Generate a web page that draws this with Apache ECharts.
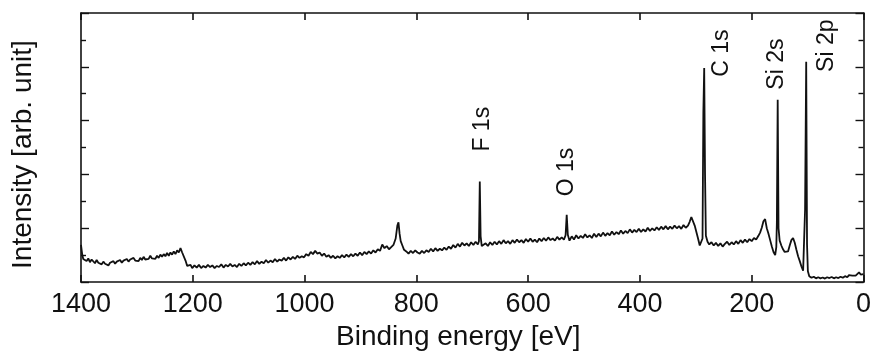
<!DOCTYPE html>
<html>
<head>
<meta charset="utf-8">
<script src="https://cdn.jsdelivr.net/npm/echarts@6/dist/echarts.min.js"></script>
<style>
  html, body { margin: 0; padding: 0; background: #fff; }
  #main { width: 874px; height: 356px; }
</style>
</head>
<body>
<div id="main"></div>
<script>
// XPS survey spectrum, [binding energy eV, intensity arb.]
const spectrum = [
  [1400, 1.38], [1398, 1.05], [1396, 0.86], [1393, 0.92], [1390, 0.78], [1387, 0.88], [1384, 0.74],
  [1381, 0.84], [1378, 0.8], [1375, 0.7], [1372, 0.82], [1369, 0.72], [1366, 0.78], [1363, 0.66],
  [1360, 0.76], [1357, 0.68], [1354, 0.74], [1351, 0.62], [1348, 0.72], [1345, 0.66], [1342, 0.78],
  [1339, 0.68], [1336, 0.76], [1333, 0.7], [1330, 0.82], [1327, 0.72], [1324, 0.8], [1321, 0.74],
  [1318, 0.86], [1315, 0.76], [1312, 0.84], [1309, 0.78], [1306, 0.9], [1303, 0.8], [1300, 0.86],
  [1297, 0.78], [1294, 0.9], [1291, 0.82], [1288, 0.94], [1285, 0.84], [1282, 0.9], [1279, 0.86],
  [1276, 0.98], [1273, 0.88], [1270, 0.94], [1267, 0.86], [1264, 0.98], [1261, 0.9], [1258, 1.02],
  [1255, 0.94], [1252, 1.04], [1249, 0.96], [1246, 1.08], [1243, 0.98], [1240, 1.1], [1237, 1.02],
  [1234, 1.14], [1231, 1.04], [1228, 1.18], [1225, 1.1], [1222, 1.26], [1219, 1.1], [1216, 1.14],
  [1213, 0.8], [1210, 0.6], [1207, 0.54], [1204, 0.64], [1201, 0.52],
  [1197, 0.62], [1193, 0.54], [1189, 0.64], [1185, 0.52], [1181, 0.6], [1177, 0.54], [1173, 0.64],
  [1169, 0.56], [1165, 0.62], [1161, 0.52], [1157, 0.6], [1153, 0.56], [1149, 0.66], [1145, 0.54],
  [1141, 0.64], [1137, 0.58], [1133, 0.68], [1129, 0.58], [1125, 0.64], [1121, 0.56], [1117, 0.68],
  [1113, 0.6], [1109, 0.7], [1105, 0.62], [1101, 0.72], [1097, 0.64], [1093, 0.74], [1089, 0.66],
  [1085, 0.78], [1081, 0.68], [1077, 0.76], [1073, 0.7], [1069, 0.82], [1065, 0.72], [1061, 0.8],
  [1057, 0.74], [1053, 0.86], [1049, 0.76], [1045, 0.84], [1041, 0.8], [1037, 0.9], [1033, 0.8],
  [1029, 0.92], [1025, 0.84], [1021, 0.94], [1017, 0.86], [1013, 0.98], [1009, 0.9], [1005, 0.96],
  [1001, 0.92],
  [997, 1.04], [993, 0.98], [989, 1.12], [985, 1.04], [981, 1.16], [977, 1.06], [973, 1.1],
  [969, 0.98], [965, 1.06], [961, 0.94], [957, 1.0], [953, 0.9], [949, 0.98], [945, 0.88],
  [941, 0.96], [937, 0.9], [933, 1.0], [929, 0.92], [925, 1.02], [921, 0.94], [917, 1.04],
  [913, 0.96], [909, 1.06], [905, 0.98], [901, 1.1], [897, 1.0], [893, 1.12], [889, 1.04],
  [885, 1.14], [881, 1.06], [877, 1.18], [873, 1.1], [869, 1.22], [865, 1.16], [861, 1.4],
  [857, 1.26], [853, 1.34], [849, 1.22], [845, 1.3], [841, 1.38], [837, 1.62], [834, 2.1],
  [832, 2.22], [830, 1.8], [828, 1.52], [825, 1.36], [822, 1.2], [818, 1.14], [814, 1.06],
  [810, 1.16], [806, 1.08], [802, 1.18], [798, 1.1], [794, 1.06], [790, 1.16], [786, 1.08],
  [782, 1.18], [778, 1.12], [774, 1.24], [770, 1.14], [766, 1.26], [762, 1.16], [758, 1.24],
  [754, 1.18], [750, 1.28], [746, 1.2], [742, 1.32], [738, 1.24], [734, 1.38], [730, 1.28],
  [726, 1.42], [722, 1.32], [718, 1.46], [714, 1.36], [710, 1.44], [706, 1.34], [702, 1.48],
  [698, 1.38], [694, 1.5], [690, 1.4], [688, 1.52], [686.5, 3.74], [685, 1.7], [683, 1.34],
  [680, 1.28], [676, 1.44], [672, 1.34], [668, 1.48], [664, 1.38], [660, 1.5], [656, 1.4],
  [652, 1.52], [648, 1.42], [644, 1.56], [640, 1.44], [636, 1.52], [632, 1.42], [628, 1.56],
  [624, 1.46], [620, 1.58], [616, 1.48], [612, 1.56], [608, 1.46], [604, 1.6], [600, 1.5],
  [596, 1.62], [592, 1.5], [588, 1.58], [584, 1.48], [580, 1.62], [576, 1.52], [572, 1.64],
  [568, 1.54], [564, 1.66], [560, 1.56], [556, 1.62], [552, 1.54], [548, 1.68], [544, 1.58],
  [540, 1.66], [536, 1.58], [533, 1.74], [531, 2.5], [529, 1.76], [526, 1.54], [522, 1.7],
  [518, 1.58], [514, 1.74], [510, 1.62], [506, 1.72], [502, 1.64], [498, 1.78], [494, 1.66],
  [490, 1.74], [486, 1.64], [482, 1.8], [478, 1.68], [474, 1.8], [470, 1.7], [466, 1.84],
  [462, 1.72], [458, 1.82], [454, 1.74], [450, 1.88], [446, 1.76], [442, 1.86], [438, 1.78],
  [434, 1.92], [430, 1.8], [426, 1.9], [422, 1.82], [418, 1.96], [414, 1.84], [410, 1.94],
  [406, 1.86], [402, 1.98], [398, 1.86], [394, 1.96], [390, 1.88], [386, 2.02], [382, 1.9],
  [378, 2.0], [374, 1.92], [370, 2.04], [366, 1.94], [362, 2.06], [358, 1.96], [354, 2.08],
  [350, 1.96], [346, 2.06], [342, 1.98], [338, 2.1], [334, 2.0], [330, 2.08], [326, 1.98],
  [322, 2.12], [318, 2.02], [314, 2.1], [311, 2.24], [308, 2.42], [305, 2.36], [302, 2.1],
  [299, 1.86], [296, 1.62], [293, 1.36], [290, 1.32], [288, 1.62], [286.5, 6.3], [285, 7.96],
  [283.5, 4.0], [282, 1.72], [279, 1.5], [276, 1.4], [272, 1.48], [268, 1.36], [264, 1.46],
  [260, 1.34], [256, 1.44], [252, 1.32], [248, 1.42], [244, 1.5], [240, 1.38], [236, 1.48],
  [232, 1.4], [228, 1.52], [224, 1.42], [220, 1.56], [216, 1.46], [212, 1.58], [208, 1.48],
  [204, 1.6], [200, 1.52], [196, 1.64], [192, 1.58], [188, 1.72], [185, 1.84], [182, 2.02],
  [179, 2.26], [176, 2.34], [173, 2.0], [170, 1.8], [167, 1.56], [164, 1.32], [161, 1.12],
  [158, 1.0], [156, 1.3], [155, 2.2], [153.5, 6.78], [152, 2.0], [150, 1.54], [147, 1.36],
  [144, 1.22], [141, 1.12], [138, 1.06], [135, 1.14], [132, 1.36], [129, 1.56], [126, 1.64],
  [123, 1.46], [120, 1.2], [117, 0.96], [114, 0.78], [111, 0.58], [108, 0.42], [106, 0.46],
  [104.5, 2.7], [102.5, 8.19], [101, 1.4], [99.5, 0.4], [97, 0.22], [93, 0.16], [89, 0.2],
  [85, 0.14], [81, 0.18], [77, 0.14], [73, 0.17], [69, 0.13], [65, 0.18], [61, 0.15],
  [57, 0.19], [53, 0.14], [49, 0.18], [45, 0.15], [41, 0.2], [37, 0.16], [33, 0.22],
  [29, 0.18], [26, 0.26], [23, 0.32], [20, 0.24], [17, 0.18], [14, 0.24], [11, 0.3],
  [8, 0.36], [5, 0.28], [2, 0.34], [0, 0.3]
];

// peak annotations: name, energy and intensity of the label's start
const peakNames = ['F 1s', 'O 1s', 'C 1s', 'Si 2s', 'Si 2p'];
const peakLabelEnergy = [682, 531, 253, 155, 66];
const peakLabelIntensity = [4.85, 3.19, 7.63, 7.15, 7.81];

const xMin = 0, xMax = 1400, xStep = 200;
const yMin = 0, yMax = 10, yStep = 2;

const FONT = '"Liberation Sans", Arial, sans-serif';
const INK = '#111';

const chart = echarts.init(document.getElementById('main'), null, { renderer: 'canvas' });

const frameX = (pos, showLabels) => ({
  type: 'value',
  position: pos,
  min: xMin,
  max: xMax,
  interval: xStep,
  inverse: true,
  axisLine: { show: true, onZero: false, lineStyle: { color: INK, width: 1.6 } },
  axisTick: { show: true, inside: true, length: 7, lineStyle: { color: INK, width: 1.6 } },
  axisLabel: {
    show: showLabels,
    fontSize: 27,
    fontFamily: FONT,
    color: INK,
    margin: 9,
    formatter: v => String(v),
  },
  splitLine: { show: false },
});

const frameY = pos => ({
  type: 'value',
  position: pos,
  min: yMin,
  max: yMax,
  interval: yStep,
  axisLine: { show: true, onZero: false, lineStyle: { color: INK, width: 1.6 } },
  axisTick: { show: true, inside: true, length: 8, lineStyle: { color: INK, width: 1.4 } },
  minorTick: { show: true, splitNumber: 2, length: 5, lineStyle: { color: INK, width: 1.4 } },
  axisLabel: { show: false },
  splitLine: { show: false },
  minorSplitLine: { show: false },
});

const bottomX = frameX('bottom', true);
bottomX.name = 'Binding energy [eV]';
bottomX.nameLocation = 'middle';
bottomX.nameGap = 35;
bottomX.nameTextStyle = { fontSize: 28, fontFamily: FONT, color: INK, padding: [0, 28, 0, 0] };

const leftY = frameY('left');
leftY.name = 'Intensity [arb. unit]';
leftY.nameLocation = 'middle';
leftY.nameGap = 44;
leftY.nameTextStyle = { fontSize: 28, fontFamily: FONT, color: INK, padding: [0, 14, 0, 0] };

chart.setOption({
  animation: false,
  backgroundColor: '#fff',
  grid: { left: 81, right: 7, top: 13, bottom: 73, containLabel: false },
  xAxis: [bottomX, frameX('top', false)],
  yAxis: [leftY, frameY('right')],
  series: [
    {
      type: 'line',
      xAxisIndex: 0,
      yAxisIndex: 0,
      data: spectrum,
      showSymbol: false,
      symbol: 'none',
      lineStyle: { color: INK, width: 1.8 },
      silent: true,
    },
    {
      type: 'scatter',
      xAxisIndex: 0,
      yAxisIndex: 0,
      symbolSize: 0,
      silent: true,
      itemStyle: { opacity: 1 },
      data: peakNames.map((n, i) => ({ name: n, value: [peakLabelEnergy[i], peakLabelIntensity[i]] })),
      label: {
        show: true,
        position: 'inside',
        rotate: 90,
        align: 'left',
        verticalAlign: 'middle',
        formatter: p => p.name,
        fontSize: 23,
        fontFamily: FONT,
        color: INK,
        opacity: 1,
      },
    },
  ],
});
</script>
</body>
</html>
